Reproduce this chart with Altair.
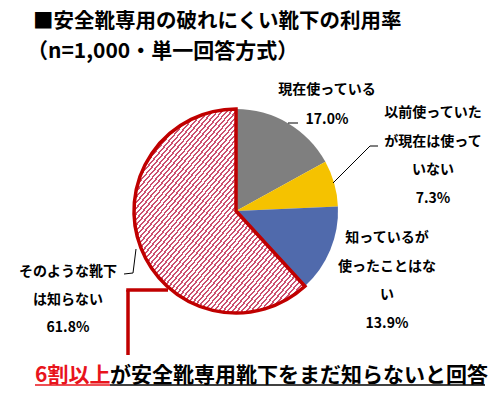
import math
import altair as alt
import pandas as pd

# ---- data ----
categories = ["現在使っている", "以前使っていたが現在は使っていない",
              "知っているが使ったことはない", "そのような靴下は知らない"]
values = [17.0, 7.3, 13.9, 61.8]
label_lines = [["現在使っている"],
               ["以前使っていた", "が現在は使って", "いない"],
               ["知っているが", "使ったことはな", "い"],
               ["そのような靴下", "は知らない"]]
slice_colors = ["#7f7f7f", "#f5c200", "#506aac", "#ffffff"]
title_lines = ["■安全靴専用の破れにくい靴下の利用率", "（n=1,000・単一回答方式）"]
note_red = "6割以上"
note_black = "が安全靴専用靴下をまだ知らないと回答"

df = pd.DataFrame({"cat": categories, "val": values})
df["end"] = df["val"].cumsum()
df["start"] = df["end"] - df["val"]

FONT = "Noto Sans CJK JP"
CX, CY, R = 228, 203, 102
RED = "#C00000"

theta_scale = alt.Scale(domain=[0, 100], range=[0, 2 * math.pi])
base = alt.Chart(df).encode(
    theta=alt.Theta("start:Q", scale=theta_scale),
    theta2="end:Q",
    x=alt.value(CX), y=alt.value(CY),
)
pie = base.mark_arc(outerRadius=R).encode(
    color=alt.Color("cat:N", scale=alt.Scale(domain=categories, range=slice_colors), legend=None)
)

# hatched fill via hard-stop gradient
stops = []
n = 73
for i in range(n):
    a = i / n
    b = (i + 0.42) / n
    c = (i + 1) / n
    stops += [alt.GradientStop(color="#cc5070", offset=a),
              alt.GradientStop(color="#cc5070", offset=b),
              alt.GradientStop(color="#ffffff", offset=b),
              alt.GradientStop(color="#ffffff", offset=min(c, 1.0))]
grad = alt.LinearGradient(gradient="linear", stops=stops, x1=0, y1=0, x2=1, y2=1)
red_slice = base.transform_filter(alt.datum.cat == categories[3]).mark_arc(
    outerRadius=R, fill=grad, stroke=RED, strokeWidth=3.5, strokeJoin="miter")

one = pd.DataFrame({"a": [0]})


def text(lines, x, y, size=14, color="black", align="center", baseline="middle", lh=28):
    return alt.Chart(one).mark_text(
        text=lines, font=FONT, fontSize=size, fontWeight="bold", color=color,
        align=align, baseline=baseline, lineHeight=lh,
    ).encode(x=alt.value(x), y=alt.value(y))


def seg(x1, y1, x2, y2, color="black", w=1.0):
    return alt.Chart(one).mark_rule(color=color, strokeWidth=w).encode(
        x=alt.value(x1), y=alt.value(y1), x2=alt.value(x2), y2=alt.value(y2))


labels = []
pos = [(319, 82, 30), (425, 105, 28.5), (379, 230, 28.5), (60, 264, 28)]
for lines, v, (x, y, lh) in zip(label_lines, values, pos):
    labels.append(text(lines + [f"{v:.1f}%"], x, y, lh=lh))

leaders = [
    seg(280, 115, 290, 115),
    seg(325, 175, 362, 138), seg(362, 138, 370, 138),
    seg(128, 241, 125, 265), seg(125, 265, 116, 266),
    seg(120, 347, 120, 282, RED, 3.5), seg(118.25, 282, 160, 282, RED, 3.5),
]

titles = [
    text(title_lines[0], 25, 20, size=20.5, align="left", baseline="alphabetic"),
    text(title_lines[1], 19, 50, size=21, align="left", baseline="alphabetic"),
]

notes = [
    text(note_red, 27, 368, size=21, color="#e8141c", align="left"),
    text(note_black, 102, 368, size=21, align="left"),
    seg(27, 377, 102, 377, "#e8141c", 1.5),
    seg(102, 377, 477, 377, "black", 1.5),
]

chart = alt.layer(pie, red_slice, *leaders, *labels, *titles, *notes).properties(
    width=484, height=381, padding=0, autosize=alt.AutoSizeParams(type="none")
).configure_view(stroke=None)

chart.save("out.html", embed_options={"renderer": "svg", "actions": False})
